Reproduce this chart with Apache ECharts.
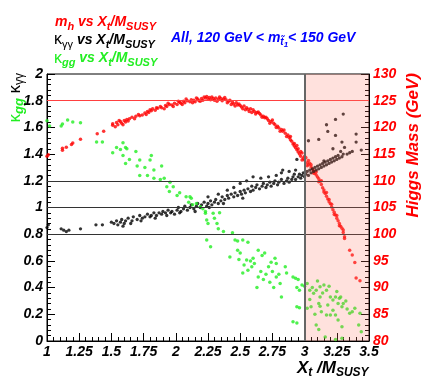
<!DOCTYPE html>
<html><head><meta charset="utf-8">
<script src="https://cdn.jsdelivr.net/npm/echarts@6/dist/echarts.min.js"></script>
<style>html,body{margin:0;padding:0;background:#fff}#c{width:436px;height:384px}</style>
</head><body><div id="c"></div>
<script>
// axis ranges / ticks
const xRange = [1, 3.5], xStep = 0.25;
const kRange = [0, 2], kStep = 0.2;
const mRange = [80, 130], mStep = 5;
const refLinesK = [1.2, 1.0, 0.8];
const refLineMass = 125;
const shadeRange = [3, 3.5];

// m_h (GeV) vs Xt/MSUSY
const mhPoints = [
[1.00,114.6],[1.01,114.9],[1.12,115.7],[1.12,116.1],[1.15,116.3],[1.19,116.8],[1.20,117.1],[1.26,117.8],[1.39,118.8],[1.44,119.3],
[1.51,120.4],[1.51,120.7],[1.54,120.9],[1.55,120.5],[1.57,121.1],[1.58,120.8],[1.60,121.3],[1.61,121.0],[1.62,121.5],[1.63,121.2],
[1.66,121.9],[1.69,122.1],[1.71,122.4],[1.72,122.2],[1.76,122.7],[1.78,123.0],[1.79,122.8],[1.80,123.3],[1.81,123.1],[1.82,123.5],
[1.86,123.6],[1.88,123.9],[1.89,123.7],[1.92,124.1],[1.93,123.9],[1.95,124.3],[1.97,124.2],[1.99,124.5],[2.01,124.3],[2.03,124.7],
[2.04,124.5],[2.06,124.9],[2.07,124.6],[2.09,125.0],[2.11,124.8],[2.12,125.2],[2.14,125.1],[2.15,124.8],[2.17,125.3],[2.18,125.0],
[2.20,125.4],[2.21,125.1],[2.23,125.5],[2.24,125.8],[2.25,125.3],[2.26,125.6],[2.27,125.2],[2.29,125.4],[2.30,125.1],[2.31,125.5],
[2.33,125.3],[2.35,125.4],[2.36,125.0],[2.38,125.6],[2.39,125.2],[2.41,124.9],[2.42,125.1],[2.44,124.7],[2.45,124.4],[2.47,124.6],
[2.48,124.2],[2.50,124.1],[2.51,123.8],[2.53,124.0],[2.55,123.7],[2.56,123.4],[2.58,123.5],[2.60,123.3],[2.61,123.0],[2.63,122.8],
[2.65,122.6],[2.66,122.3],[2.68,122.1],[2.69,121.8],[2.71,121.6],[2.72,121.3],[2.74,121.1],[2.76,120.8],[2.77,120.5],[2.79,120.2],
[2.80,119.9],[2.82,119.6],[2.83,119.3],[2.85,118.9],[2.87,118.6],[2.88,118.1],[2.89,117.7],[2.90,117.4],[2.91,116.9],[2.92,116.5],
[2.93,116.2],[2.94,115.8],[2.95,115.4],[2.95,116.0],[2.96,115.0],[2.97,114.6],[2.98,115.2],[2.99,114.2],[3.00,113.9],[3.01,114.3],
[3.02,113.4],[3.03,113.0],[3.04,113.3],[3.05,112.6],[3.06,112.2],[3.07,111.9],[3.08,111.4],[3.09,111.1],[3.10,110.7],[3.11,110.4],
[3.12,109.9],[3.13,109.3],[3.14,108.7],[3.15,108.3],[3.16,107.6],[3.17,107.1],[3.18,106.6],[3.19,106.1],[3.20,105.7],[3.21,105.1],
[3.22,104.6],[3.23,104.1],[3.24,103.6],[3.25,103.0],[3.26,102.5],[3.27,102.0],[3.28,101.5],[3.29,101.1],[3.30,100.3],[3.31,99.5],
[3.31,99.2],[3.35,97.0],[3.37,96.1],[3.39,94.7],[3.40,91.8],[3.43,91.3],
[1.53,120.1],[1.56,121.3],[1.59,120.5],[1.64,121.6],[1.68,121.6],[1.74,122.3],[1.77,122.4],[1.84,123.2],[1.85,123.7],[1.91,123.5],
[1.94,124.5],[1.98,123.9],[2.02,124.9],[2.05,124.3],[2.08,125.3],[2.13,124.6],[2.16,125.5],[2.19,124.9],[2.22,125.7],[2.28,125.7],
[2.32,124.9],[2.34,125.7],[2.37,125.3],[2.40,124.6],[2.43,124.3],[2.46,124.0],[2.49,124.4],[2.52,123.5],[2.54,123.3],[2.57,123.0],
[2.59,122.8],[2.62,122.5],[2.64,122.9],[2.67,121.9],[2.70,121.9],[2.73,120.8],[2.75,121.4],[2.78,120.0],[2.81,119.3],[2.84,119.5],
[2.86,118.3],[2.89,118.3],[2.92,117.0],[2.94,116.6],[2.97,115.5],[2.98,113.9],[3.00,114.6],[3.02,112.8],[3.03,113.8],[3.05,113.0],
[3.07,111.4],[3.09,111.7],[3.11,109.8],[3.13,110.0],[3.15,107.9],[3.17,107.8],[3.19,106.5],[3.21,105.6],[3.23,103.7],[3.25,103.5],
[3.27,101.6],[3.30,100.8]
];

// kappa_gamma-gamma vs Xt/MSUSY
const kyyPoints = [
[1.00,0.85],[1.01,0.87],[1.11,0.84],[1.13,0.83],[1.15,0.82],[1.17,0.83],[1.26,0.84],[1.38,0.87],[1.43,0.87],[1.50,0.89],
[1.52,0.88],[1.54,0.90],[1.55,0.87],[1.57,0.89],[1.58,0.91],[1.60,0.88],[1.61,0.90],[1.63,0.92],[1.66,0.90],[1.67,0.93],
[1.70,0.91],[1.72,0.94],[1.74,0.92],[1.76,0.93],[1.78,0.95],[1.80,0.93],[1.81,0.94],[1.83,0.96],[1.85,0.94],[1.87,0.96],
[1.89,0.95],[1.90,0.97],[1.92,0.96],[1.94,0.98],[1.96,0.96],[1.97,0.97],[1.99,0.95],[2.01,0.98],[2.02,1.00],[2.04,0.97],
[2.06,0.99],[2.07,1.01],[2.09,0.98],[2.11,1.00],[2.12,1.02],[2.14,0.99],[2.16,1.01],[2.17,1.03],[2.19,1.00],[2.20,1.02],
[2.22,1.04],[2.24,1.01],[2.25,1.03],[2.25,1.08],[2.27,1.05],[2.28,1.02],[2.30,1.04],[2.31,1.06],[2.33,1.03],[2.33,1.10],
[2.35,1.05],[2.36,1.08],[2.38,1.06],[2.40,1.09],[2.40,1.13],[2.41,1.07],[2.43,1.10],[2.45,1.08],[2.45,1.15],[2.46,1.11],
[2.48,1.09],[2.50,1.12],[2.50,1.18],[2.51,1.10],[2.53,1.13],[2.54,1.11],[2.55,1.20],[2.56,1.14],[2.58,1.12],[2.59,1.16],
[2.60,1.13],[2.60,1.23],[2.62,1.15],[2.63,1.17],[2.65,1.14],[2.66,1.22],[2.67,1.16],[2.68,1.18],[2.70,1.15],[2.71,1.17],
[2.72,1.23],[2.73,1.19],[2.74,1.16],[2.76,1.18],[2.77,1.20],[2.78,1.24],[2.79,1.17],[2.80,1.19],[2.82,1.21],[2.82,1.26],
[2.83,1.28],[2.84,1.18],[2.86,1.20],[2.87,1.22],[2.88,1.19],[2.88,1.27],[2.90,1.21],[2.91,1.23],[2.92,1.25],[2.93,1.21],
[2.93,1.28],[2.94,1.36],[2.95,1.23],[2.96,1.25],[2.97,1.22],[2.98,1.24],[2.99,1.26],[3.00,1.23],[3.01,1.25],[3.02,1.27],
[3.03,1.50],[3.03,1.24],[3.04,1.28],[3.05,1.26],[3.06,1.29],[3.07,1.27],[3.08,1.30],[3.09,1.28],[3.10,1.31],[3.11,1.51],
[3.11,1.29],[3.12,1.32],[3.13,1.30],[3.14,1.33],[3.15,1.35],[3.15,1.31],[3.16,1.34],[3.17,1.62],[3.17,1.32],[3.18,1.57],
[3.18,1.35],[3.19,1.33],[3.20,1.36],[3.21,1.34],[3.22,1.37],[3.22,1.44],[3.23,1.35],[3.24,1.66],[3.24,1.54],[3.24,1.38],
[3.25,1.36],[3.26,1.39],[3.27,1.37],[3.28,1.42],[3.29,1.49],[3.29,1.38],[3.30,1.70],[3.30,1.40],[3.31,1.45],[3.33,1.40],
[3.35,1.41],[3.37,1.42],[3.40,1.55],[3.40,1.49],[3.44,1.43],
[1.59,0.86],[1.65,0.88],[1.73,0.90],[1.84,0.92],[1.93,0.94],[2.03,0.96],[2.15,0.97],[2.26,1.00],[2.37,1.03],[2.52,1.07]
];

// kappa_gg vs Xt/MSUSY
const kggPoints = [
[1.00,1.65],[1.02,1.61],[1.11,1.61],[1.12,1.625],[1.16,1.655],[1.20,1.64],[1.26,1.635],[1.385,1.49],[1.43,1.49],[1.51,1.41],
[1.54,1.45],[1.57,1.435],[1.59,1.485],[1.61,1.45],[1.62,1.44],[1.59,1.39],[1.64,1.36],[1.61,1.33],[1.69,1.42],[1.72,1.356],
[1.70,1.31],[1.72,1.24],[1.76,1.30],[1.80,1.356],[1.81,1.39],[1.83,1.28],[1.78,1.24],[1.83,1.22],[1.89,1.31],[1.88,1.21],
[1.91,1.22],[1.93,1.156],[1.955,1.19],[1.95,1.12],[1.98,1.156],[2.01,1.09],[2.03,1.11],[2.08,1.08],[2.11,1.08],[2.12,1.07],
[2.10,1.04],[2.13,1.02],[2.16,1.03],[2.19,1.006],[2.21,0.99],[2.23,0.97],[2.23,0.956],[2.24,0.906],[2.25,0.88],[2.29,0.956],
[2.30,0.92],[2.32,0.88],[2.33,0.84],[2.34,0.96],[2.24,0.757],[2.27,0.706],[2.37,0.82],[2.44,0.81],[2.46,0.757],[2.48,0.75],
[2.52,0.757],[2.56,0.74],[2.42,0.63],[2.48,0.68],[2.50,0.66],[2.49,0.61],[2.55,0.607],[2.58,0.60],[2.64,0.68],[2.67,0.64],
[2.69,0.66],[2.74,0.59],[2.77,0.62],[2.78,0.58],[2.72,0.557],[2.75,0.52],[2.59,0.557],[2.56,0.53],[2.52,0.51],[2.64,0.48],
[2.63,0.40],[2.81,0.43],[2.82,0.33],[2.78,0.48],[2.80,0.50],[2.85,0.557],[2.86,0.51],[2.91,0.48],[2.93,0.47],[2.95,0.46],
[2.98,0.42],[2.94,0.40],[2.96,0.38],[3.00,0.41],[2.94,0.257],[2.96,0.25],[2.91,0.145],[2.94,0.135],[2.66,0.52],[2.70,0.50],
[2.61,0.58],[2.68,0.46],[2.73,0.44],[2.76,0.40],[2.60,0.62],[2.53,0.57],
[3.02,0.43],[3.04,0.38],[3.07,0.357],[3.09,0.38],[3.12,0.407],[3.12,0.33],[3.14,0.36],[3.17,0.38],[3.20,0.33],[3.22,0.307],
[3.24,0.33],[3.27,0.32],[3.29,0.257],[3.30,0.28],[3.33,0.24],[3.11,0.28],[3.12,0.26],[3.13,0.22],[3.17,0.195],[3.20,0.195],
[3.22,0.23],[3.24,0.195],[3.26,0.157],[3.29,0.107],[3.35,0.207],[3.39,0.245],[3.43,0.207],[3.42,0.12],[3.44,0.07],[3.09,0.12],
[3.11,0.087],[3.16,0.03],[3.24,0.012],[3.29,0.02],[3.04,0.31],[3.05,0.257],[3.02,0.245],[3.06,0.40],[3.10,0.45],[3.15,0.42],
[3.19,0.41],[3.25,0.37],[3.28,0.33],[3.32,0.30],[3.37,0.22],[3.08,0.20],[3.18,0.27],[3.26,0.28]
];

const F = '"Liberation Sans", Arial, sans-serif';
const chart = echarts.init(document.getElementById('c'), null, {renderer: 'canvas'});

function rs(size, color, extra) {
  return Object.assign({fontSize: size, fontFamily: F, fontWeight: 'bold', fontStyle: 'italic', fill: color}, extra || {});
}
function gk(size, color, extra) {
  return Object.assign({fontSize: size, fontFamily: F, fontWeight: 'normal', fontStyle: 'normal', fill: color}, extra || {});
}
function legendRich(color) {
  return {
    m: rs(14, color),
    s: rs(11, color, {padding: [9, 0, 0, 0]}),
    g: gk(16, color),
    gs: gk(11, color, {padding: [9, 0, 0, 0]})
  };
}
const axisLbl = {fontFamily: F, fontWeight: 'bold', fontStyle: 'italic', fontSize: 14, color: '#000'};

const option = {
  animation: false,
  grid: {left: 47, right: 67, top: 74, bottom: 43, show: true, borderColor: '#000', borderWidth: 1, backgroundColor: 'transparent'},
  xAxis: {
    type: 'value', min: xRange[0], max: xRange[1], interval: xStep,
    axisLine: {show: true, lineStyle: {color: '#000', width: 1}},
    axisTick: {show: true, inside: true, length: 8, lineStyle: {color: '#000'}},
    minorTick: {show: true, splitNumber: 5, length: 4, lineStyle: {color: '#000'}},
    splitLine: {show: false},
    axisLabel: Object.assign({margin: 4}, axisLbl)
  },
  yAxis: [{
    type: 'value', min: kRange[0], max: kRange[1], interval: kStep,
    axisLine: {show: true, lineStyle: {color: '#000', width: 1}},
    axisTick: {show: true, inside: true, length: 8, lineStyle: {color: '#000'}},
    minorTick: {show: true, splitNumber: 5, length: 4, lineStyle: {color: '#000'}},
    splitLine: {show: false},
    axisLabel: Object.assign({margin: 4}, axisLbl)
  }, {
    type: 'value', position: 'right', min: mRange[0], max: mRange[1], interval: mStep,
    axisLine: {show: true, lineStyle: {color: '#000', width: 1}},
    axisTick: {show: true, inside: true, length: 8, lineStyle: {color: '#000'}},
    minorTick: {show: true, splitNumber: 5, length: 4, lineStyle: {color: '#000'}},
    splitLine: {show: false},
    axisLabel: Object.assign({margin: 4}, axisLbl, {color: '#ff0000'})
  }],
  series: [
    {type: 'scatter', yAxisIndex: 0, data: [], silent: true,
     markLine: {silent: true, symbol: 'none', animation: false, label: {show: false}, z: 3,
       lineStyle: {color: '#333', width: 1.2, type: 'solid'},
       data: refLinesK.map(v => ({yAxis: v}))}},
    {type: 'scatter', yAxisIndex: 1, data: [], silent: true,
     markLine: {silent: true, symbol: 'none', animation: false, label: {show: false}, z: 3,
       lineStyle: {color: '#ff4040', width: 1.2, type: 'solid'},
       data: [{yAxis: refLineMass}]}},
    {name: 'mh', type: 'scatter', yAxisIndex: 1, data: mhPoints, symbol: 'circle', symbolSize: 3.5, z: 2,
     itemStyle: {color: '#ff0000'}},
    {name: 'kyy', type: 'scatter', yAxisIndex: 0, data: kyyPoints, symbol: 'circle', symbolSize: 3.3, z: 2,
     itemStyle: {color: '#000000'}},
    {name: 'kgg', type: 'scatter', yAxisIndex: 0, data: kggPoints, symbol: 'circle', symbolSize: 3.5, z: 2,
     itemStyle: {color: '#22ee22'}},
    {type: 'scatter', yAxisIndex: 0, data: [], silent: true,
     markArea: {silent: true, z: 4, itemStyle: {color: 'rgba(255,120,100,0.22)', borderWidth: 0},
       data: [[{xAxis: shadeRange[0]}, {xAxis: shadeRange[1]}]]},
     markLine: {silent: true, symbol: 'none', animation: false, label: {show: false}, z: 5,
       lineStyle: {color: '#666', width: 2, type: 'solid'},
       data: [{xAxis: shadeRange[0]}]}}
  ],
  graphic: [
    {type: 'text', x: 55, y: 22, style: {text: '{m|m}{s|h}{m| vs X}{s|t}{m|/M}{s|SUSY}', rich: legendRich('#ff0000'), align: 'left', verticalAlign: 'middle'}},
    {type: 'text', x: 54, y: 40, style: {text: '{g|κ}{gs|γγ}{m| vs X}{s|t}{m|/M}{s|SUSY}', rich: legendRich('#000000'), align: 'left', verticalAlign: 'middle'}},
    {type: 'text', x: 54, y: 58.5, style: {text: '{g|κ}{s|gg}{m| vs X}{s|t}{m|/M}{s|SUSY}', rich: legendRich('#22ee22'), align: 'left', verticalAlign: 'middle'}},
    {type: 'text', x: 171, y: 38, style: {text: '{m|All, 120 GeV < m}{s|t\u0303}{ss|1}{m|< 150 GeV}',
      rich: {m: rs(14, '#0000ff'), s: rs(10, '#0000ff', {padding: [8, 0, 0, 0]}), ss: rs(8, '#0000ff', {padding: [14, 0, 0, 0]})},
      align: 'left', verticalAlign: 'middle'}},
    {type: 'text', x: 297, y: 368, style: {text: '{m|X}{s|t}{m| /M}{s|SUSY}',
      rich: {m: rs(17, '#000'), s: rs(12, '#000', {padding: [10, 0, 0, 0]})}, align: 'left', verticalAlign: 'middle'}},
    {type: 'text', x: 413, y: 73, rotation: Math.PI / 2, style: {text: 'Higgs Mass (GeV)', font: 'italic bold 17px ' + F, fill: '#ff0000', align: 'right', verticalAlign: 'middle'}},
    {type: 'text', x: 15, y: 73, rotation: Math.PI / 2, style: {text: '{g|κ}{s|γγ}',
      rich: {g: gk(17, '#000'), s: gk(12, '#000', {padding: [9, 0, 0, 0]})}, align: 'right', verticalAlign: 'middle'}},
    {type: 'text', x: 15, y: 98, rotation: Math.PI / 2, style: {text: '{g|κ}{s|gg}',
      rich: {g: gk(17, '#22ee22'), s: rs(13, '#22ee22', {padding: [9, 0, 0, 0]})}, align: 'right', verticalAlign: 'middle'}}
  ]
};
chart.setOption(option);
</script>
</body></html>
